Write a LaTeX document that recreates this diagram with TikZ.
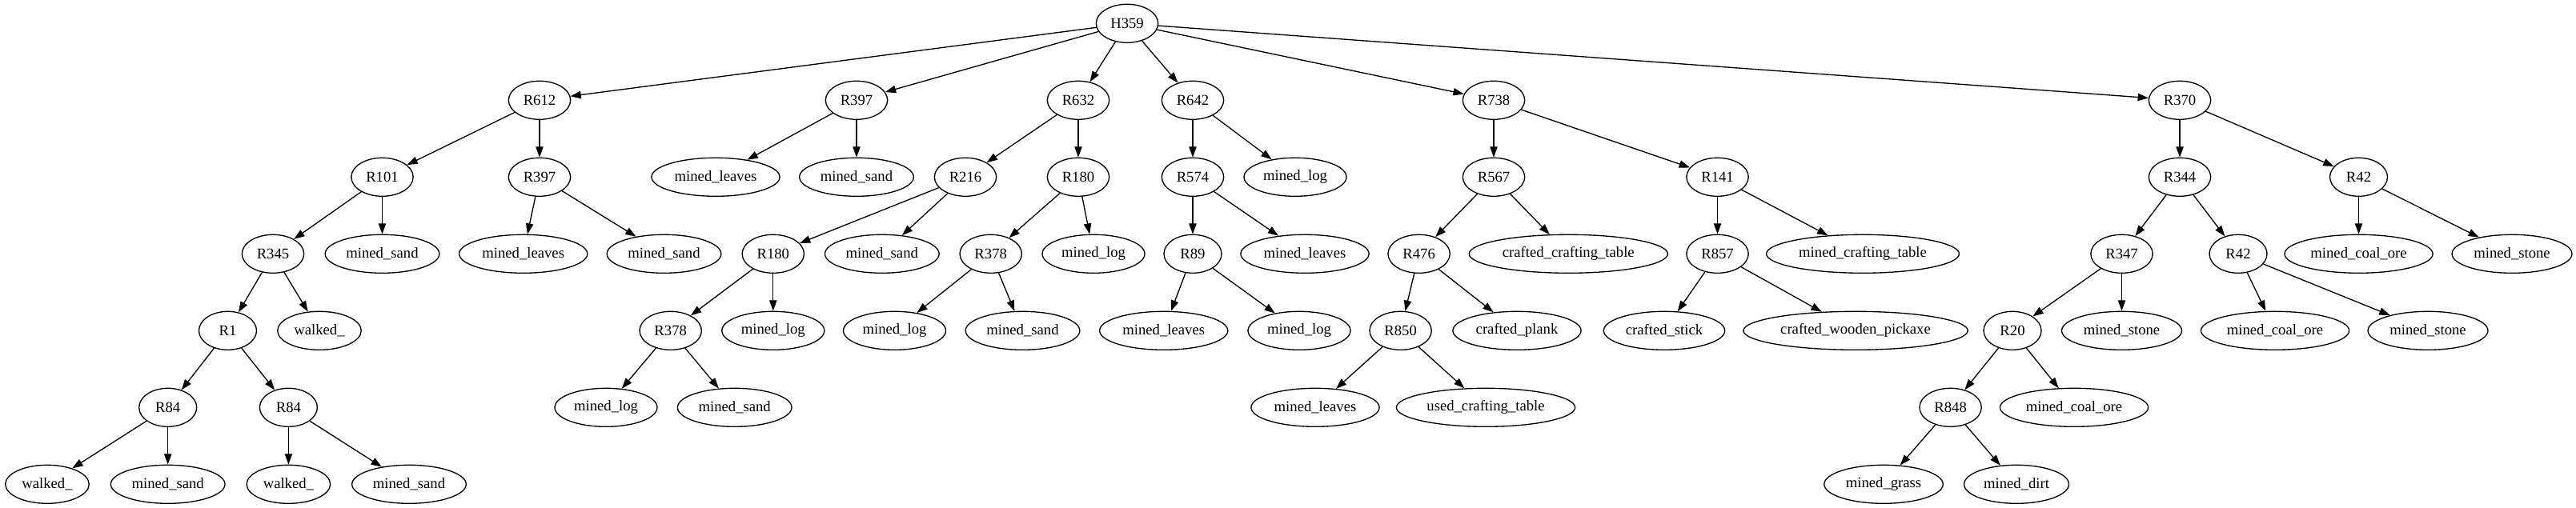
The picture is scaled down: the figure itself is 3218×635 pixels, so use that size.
\documentclass[tikz,border=0pt]{standalone}
\usepackage{fontspec}
\setmainfont{Liberation Serif}
\usetikzlibrary{shapes.geometric,arrows.meta}
\begin{document}
\begin{tikzpicture}[x=0.75pt,y=-0.75pt,
  nd/.style={draw,ellipse,line width=1pt,minimum width=54pt,minimum height=36pt,
             inner xsep=4pt,inner ysep=0pt,font=\fontsize{14}{16}\selectfont},
  rw/.style={minimum width=58pt},
  ed/.style={line width=1pt,-{Triangle[length=10pt,width=7pt]}}]
\useasboundingbox (0,0) rectangle (3218,635);
% row 0
\node[nd,rw] (H359) at (1408,29.3) {H359};
% row 1
\node[nd,rw] (R612) at (674,125.3) {R612};
\node[nd,rw] (R397b) at (1070,125.3) {R397};
\node[nd,rw] (R632) at (1347,125.3) {R632};
\node[nd,rw] (R642) at (1490,125.3) {R642};
\node[nd,rw] (R738) at (1866,125.3) {R738};
\node[nd,rw] (R370) at (2723,125.3) {R370};
% row 2
\node[nd,rw] (R101) at (477.5,221.3) {R101};
\node[nd,rw] (R397a) at (674,221.3) {R397};
\node[nd] (mlA) at (894,221.3) {mined\_leaves};
\node[nd] (msA) at (1070,221.3) {mined\_sand};
\node[nd,rw] (R216) at (1206,221.3) {R216};
\node[nd,rw] (R180a) at (1347,221.3) {R180};
\node[nd,rw] (R574) at (1490,221.3) {R574};
\node[nd] (mlogA) at (1618,221.3) {mined\_log};
\node[nd,rw] (R567) at (1866,221.3) {R567};
\node[nd,rw] (R141) at (2145.5,221.3) {R141};
\node[nd,rw] (R344) at (2723,221.3) {R344};
\node[nd] (R42a) at (2946.5,221.3) {R42};
% row 3
\node[nd,rw] (R345) at (341,317.3) {R345};
\node[nd] (msB) at (477.5,317.3) {mined\_sand};
\node[nd] (mlB) at (653.7,317.3) {mined\_leaves};
\node[nd] (msC) at (829.5,317.3) {mined\_sand};
\node[nd,rw] (R180b) at (965.8,317.3) {R180};
\node[nd] (msD) at (1101.8,317.3) {mined\_sand};
\node[nd,rw] (R378a) at (1237.7,317.3) {R378};
\node[nd] (mlogB) at (1366,317.3) {mined\_log};
\node[nd] (R89) at (1490,317.3) {R89};
\node[nd] (mlC) at (1630,317.3) {mined\_leaves};
\node[nd,rw] (R476) at (1772.6,317.3) {R476};
\node[nd] (cct) at (1959.3,317.3) {crafted\_crafting\_table};
\node[nd,rw] (R857) at (2145.5,317.3) {R857};
\node[nd] (mct) at (2327,317.3) {mined\_crafting\_table};
\node[nd,rw] (R347) at (2650.5,317.3) {R347};
\node[nd] (R42b) at (2796,317.3) {R42};
\node[nd] (mcoA) at (2946.5,317.3) {mined\_coal\_ore};
\node[nd] (mstA) at (3138,317.3) {mined\_stone};
% row 4
\node[nd] (R1) at (284.5,413.3) {R1};
\node[nd] (wk1) at (399,413.3) {walked\_};
\node[nd,rw] (R378b) at (837.7,413.3) {R378};
\node[nd] (mlogC) at (965.8,413.3) {mined\_log};
\node[nd] (mlogD) at (1117.5,413.3) {mined\_log};
\node[nd] (msE) at (1277.5,413.3) {mined\_sand};
\node[nd] (mlD) at (1453.7,413.3) {mined\_leaves};
\node[nd] (mlogE) at (1623,413.3) {mined\_log};
\node[nd,rw] (R850) at (1749.6,413.3) {R850};
\node[nd] (cpl) at (1895,413.3) {crafted\_plank};
\node[nd] (cst) at (2079,413.3) {crafted\_stick};
\node[nd] (cwp) at (2318,413.3) {crafted\_wooden\_pickaxe};
\node[nd] (R20) at (2514,413.3) {R20};
\node[nd] (mstB) at (2650.5,413.3) {mined\_stone};
\node[nd] (mcoB) at (2842,413.3) {mined\_coal\_ore};
\node[nd] (mstC) at (3033,413.3) {mined\_stone};
% row 5
\node[nd] (R84a) at (209.7,509.3) {R84};
\node[nd] (R84b) at (360.4,509.3) {R84};
\node[nd] (mlogF) at (757,509.3) {mined\_log};
\node[nd] (msF) at (917.7,509.3) {mined\_sand};
\node[nd] (mlE) at (1643,509.3) {mined\_leaves};
\node[nd] (uct) at (1856,509.3) {used\_crafting\_table};
\node[nd,rw] (R848) at (2436.6,509.3) {R848};
\node[nd] (mcoC) at (2591,509.3) {mined\_coal\_ore};
% row 6
\node[nd] (wk2) at (59,605.3) {walked\_};
\node[nd] (msG) at (209.7,605.3) {mined\_sand};
\node[nd] (wk3) at (360.4,605.3) {walked\_};
\node[nd] (msH) at (511,605.3) {mined\_sand};
\node[nd] (mgr) at (2353,605.3) {mined\_grass};
\node[nd] (mdi) at (2519,605.3) {mined\_dirt};
% edges
\foreach \a/\b in {H359/R612,H359/R397b,H359/R632,H359/R642,H359/R738,H359/R370,
  R612/R101,R612/R397a,R101/R345,R101/msB,R345/R1,R345/wk1,R1/R84a,R1/R84b,
  R84a/wk2,R84a/msG,R84b/wk3,R84b/msH,R397a/mlB,R397a/msC,R397b/mlA,R397b/msA,
  R632/R216,R632/R180a,R216/R180b,R216/msD,R180b/R378b,R180b/mlogC,R378b/mlogF,R378b/msF,
  R180a/R378a,R180a/mlogB,R378a/mlogD,R378a/msE,R642/R574,R642/mlogA,R574/R89,R574/mlC,
  R89/mlD,R89/mlogE,R738/R567,R738/R141,R567/R476,R567/cct,R476/R850,R476/cpl,
  R850/mlE,R850/uct,R141/R857,R141/mct,R857/cst,R857/cwp,R370/R344,R370/R42a,
  R344/R347,R344/R42b,R347/R20,R347/mstB,R20/R848,R20/mcoC,R848/mgr,R848/mdi,
  R42b/mcoB,R42b/mstC,R42a/mcoA,R42a/mstA}
  \draw[ed] (\a) -- (\b);
\end{tikzpicture}
\end{document}
